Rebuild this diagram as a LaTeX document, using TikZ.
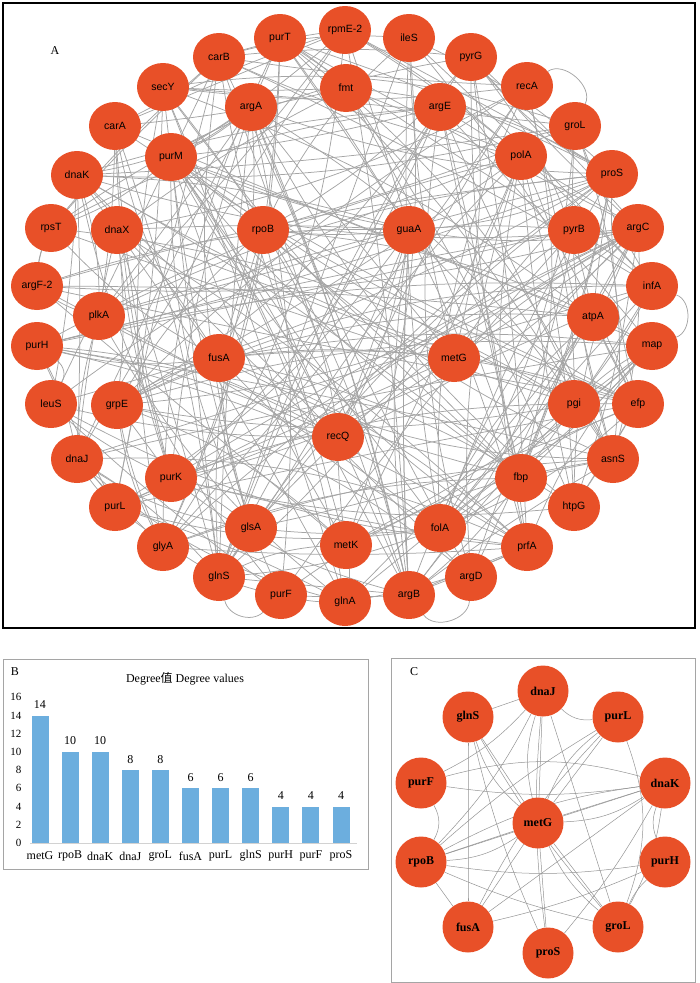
\documentclass[tikz,border=0pt]{standalone}
\usepackage{fontspec}
\setmainfont{Liberation Serif}
\setsansfont{Liberation Sans}
\newfontfamily\cjk{Noto Sans CJK SC}
\usetikzlibrary{shapes.geometric,backgrounds}
\definecolor{geneorange}{RGB}{232,80,40}
\definecolor{linkgray}{RGB}{165,165,165}
\definecolor{barblue}{RGB}{108,174,222}
\definecolor{framegray}{RGB}{165,165,165}
\tikzset{
  gene/.style={ellipse, fill=geneorange, minimum width=52pt, minimum height=48pt, inner sep=0pt,
    font=\sffamily\fontsize{10.5}{12}\selectfont},
  hub/.style={circle, fill=geneorange, minimum size=51pt, inner sep=0pt,
    font=\bfseries\fontsize{12}{14}\selectfont},
  link/.style={draw=linkgray, line width=0.75pt},
  thinlink/.style={draw=linkgray!90!black, line width=0.5pt},
  bar/.style={fill=barblue},
  val/.style={inner sep=0pt, font=\fontsize{12}{14}\selectfont},
  tick/.style={inner sep=0pt, anchor=east, font=\fontsize{11}{13}\selectfont},
  panel/.style={inner sep=0pt, font=\fontsize{12}{14}\selectfont}
}
\begin{document}
\begin{tikzpicture}[x=1pt, y=-1pt]
  \useasboundingbox (0,0) rectangle (700,983);

  % panel A
  \draw[line width=1.6pt] (3,3) rectangle (695,628);
  \node[panel] (labA) at (55,51) {A};
  \foreach \lab/\nm/\px/\py [count=\i] in {
      rpmE-2/rpmEtwo/345/30, ileS/ileS/409/38, pyrG/pyrG/471/57, recA/recA/527/86,
      groL/groL/575/126, proS/proS/612/174, argC/argC/638/228, infA/infA/652/286,
      map/map/652/346, efp/efp/638/404, asnS/asnS/613/459, htpG/htpG/574/507,
      prfA/prfA/527/547, argD/argD/471/577, argB/argB/409/595, glnA/glnA/345/602,
      purF/purF/281/595, glnS/glnS/219/577, glyA/glyA/163/547, purL/purL/115/507,
      dnaJ/dnaJ/77/459, leuS/leuS/51/404, purH/purH/37/346, argF-2/argFtwo/37/286,
      rpsT/rpsT/51/228, dnaK/dnaK/77/175, carA/carA/115/126, secY/secY/163/87,
      carB/carB/219/57, purT/purT/280/38,
      fmt/fmt/346/88, argE/argE/440/107, polA/polA/521/156, pyrB/pyrB/574/230,
      atpA/atpA/593/317, pgi/pgi/574/404, fbp/fbp/521/478, folA/folA/440/528,
      metK/metK/346/545, glsA/glsA/251/528, purK/purK/171/478, grpE/grpE/117/405,
      plkA/plkA/99/316, dnaX/dnaX/117/230, purM/purM/171/157, argA/argA/251/107,
      rpoB/rpoB/263/230, guaA/guaA/409/230, fusA/fusA/219/358, metG/metG/454/358,
      recQ/recQ/338/437}
    \node[gene, alias=\nm] (a\i) at (\px,\py) {\lab};

  \begin{scope}[on background layer]
    \pgfmathsetseed{4711}
    \foreach \k in {1,...,330}{
      \pgfmathrandominteger{\src}{1}{51}
      \pgfmathrandominteger{\dst}{1}{51}
      \pgfmathrandominteger{\bnd}{-14}{14}
      \ifnum\src=\dst\else
        \path[link] (a\src.center) to[bend left=\bnd] (a\dst.center);
      \fi
    }
    % arcs round the outside
    \path[link] (recA) to[bend left=75] (groL);
    \path[link] (infA) to[bend left=70] (map);
    \path[link] (argD) to[bend left=70] (argB);
    \path[link] (glnS) to[bend right=60] (purF);
    \path[link] (purH) to[bend left=40] (leuS);
  \end{scope}

  % panel B
  \draw[framegray, line width=0.8pt] (3,659) rectangle (368,869);
  \node[panel] (labB) at (15,672) {B};
  \node[panel] (title) at (185,679) {Degree{\cjk 值} Degree values};
  \foreach \tk in {0,2,...,16}
    \node[tick] (tk\tk) at (21.5,843-9.1*\tk) {\tk};
  \draw[framegray!50, line width=0.8pt] (30,843) -- (357,843);
  \foreach \g/\v [count=\i] in {metG/14, rpoB/10, dnaK/10, dnaJ/8, groL/8, fusA/6,
      purL/6, glnS/6, purH/4, purF/4, proS/4}{
    \pgfmathsetmacro{\bx}{40+30.1*(\i-1)}
    \pgfmathsetmacro{\by}{843-9.1*\v}
    \fill[bar] (\bx-8.5,843) rectangle (\bx+8.5,\by);
    \node[val] (bv\i) at (\bx,\by-11) {\v};
    \node[val] (bl\i) at (\bx,856) {\g};
  }

  % panel C
  \draw[framegray, line width=0.8pt] (391,658) rectangle (695,982);
  \node[panel] (labC) at (414,672) {C};
  \node[hub] (cdnaJ) at (543,691) {dnaJ};
  \node[hub] (cglnS) at (468,717) {glnS};
  \node[hub] (cpurL) at (618,717) {purL};
  \node[hub] (cpurF) at (421,783) {purF};
  \node[hub] (cdnaK) at (665,783) {dnaK};
  \node[hub] (cmetG) at (538,823) {metG};
  \node[hub] (crpoB) at (421,862) {rpoB};
  \node[hub] (cpurH) at (665,862) {purH};
  \node[hub] (cfusA) at (468,927) {fusA};
  \node[hub] (cgroL) at (618,927) {groL};
  \node[hub] (cproS) at (548,953) {proS};

  \begin{scope}[on background layer]
    \foreach \a/\b/\bnd in {
        metG/dnaJ/0, metG/dnaJ/15, metG/glnS/0, metG/glnS/15, metG/purL/0, metG/purL/15,
        metG/dnaK/0, metG/dnaK/-15, metG/rpoB/0, metG/rpoB/15, metG/groL/0, metG/groL/-12,
        metG/proS/0, metG/fusA/0,
        rpoB/dnaK/0, rpoB/dnaK/10, rpoB/purL/5, rpoB/dnaJ/-8, rpoB/groL/-5, rpoB/purH/-8,
        rpoB/fusA/0, rpoB/purF/-30,
        dnaK/purF/8, dnaK/purF/-15, dnaK/fusA/0, dnaK/groL/10, dnaK/purH/-20, dnaK/proS/5,
        dnaJ/groL/0, dnaJ/proS/-6, dnaJ/purF/10, dnaJ/purL/-25, dnaJ/glnS/0,
        groL/glnS/5, groL/purH/10, groL/purL/-20,
        fusA/glnS/0, fusA/purH/-5, fusA/purL/8,
        glnS/proS/-5}
      \path[thinlink] (c\a) to[bend left=\bnd] (c\b);
  \end{scope}
\end{tikzpicture}
\end{document}
